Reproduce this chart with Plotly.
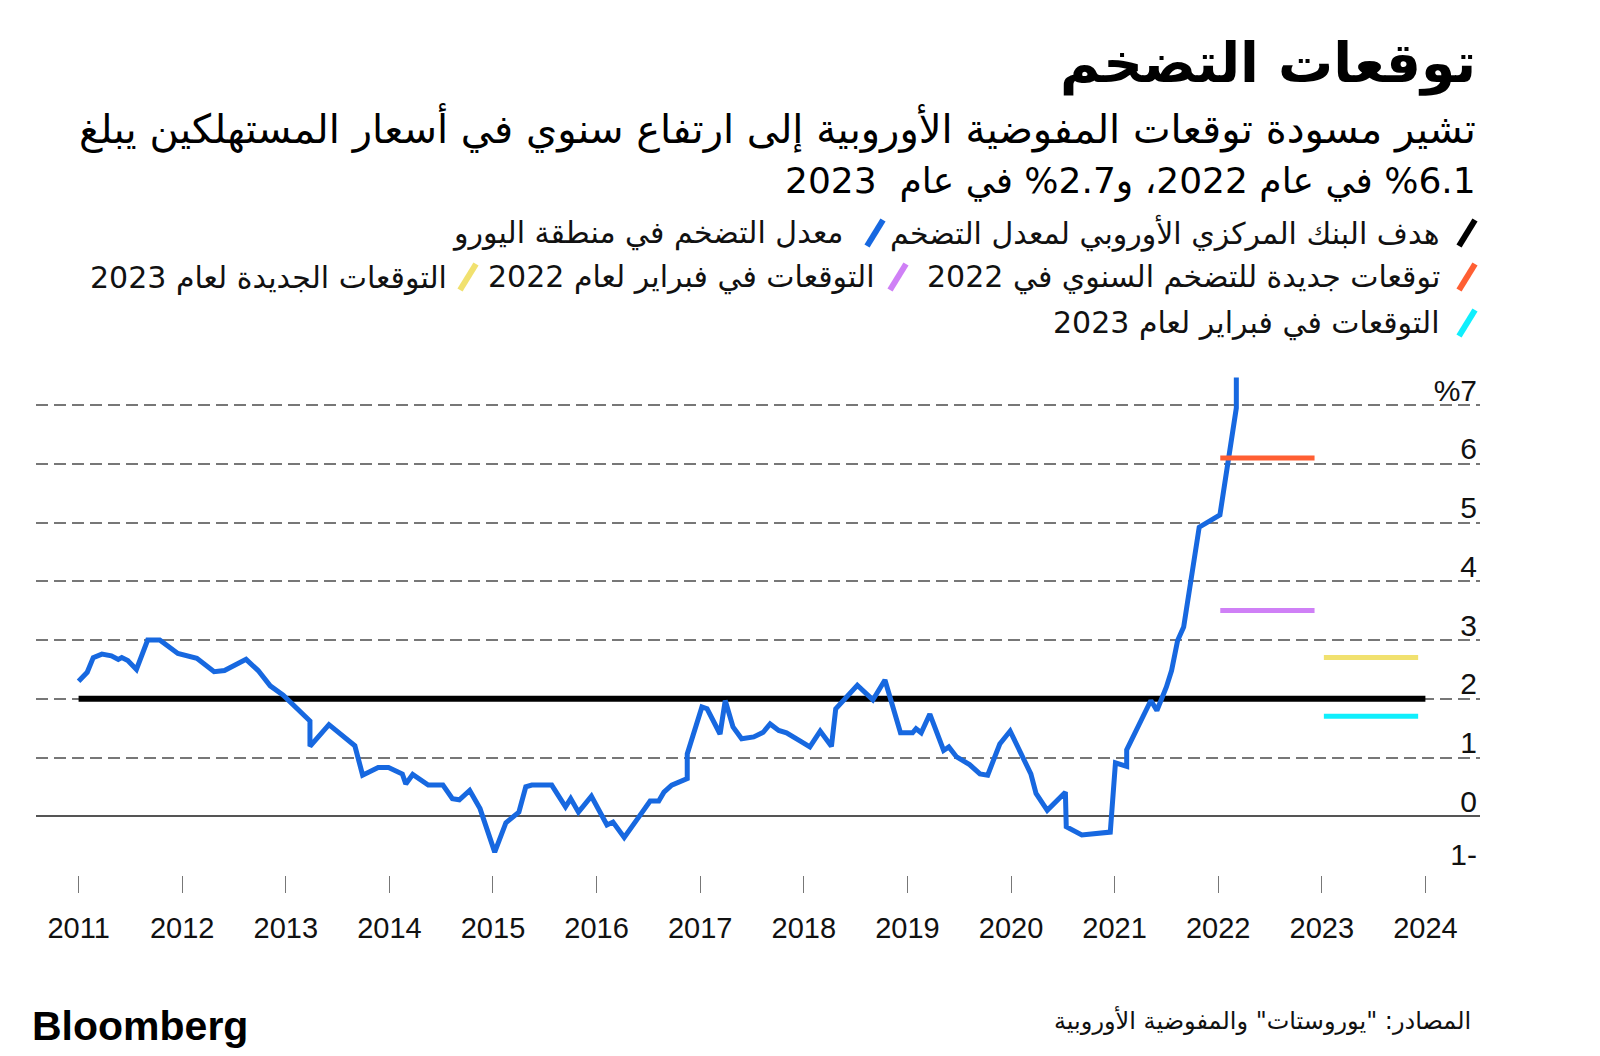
import plotly.graph_objects as go

# ---------------- data ----------------
# Euro-area annual inflation (months since Jan 2011, %)
cpi_month = [0, 1.0, 1.7, 2.7, 3.8, 4.6, 5.0, 5.7, 6.7, 8.0, 9.4, 11.5, 13.7, 15.7, 16.9, 18.4, 19.4,
             20.8, 22.2, 23.7, 26.8, 26.8, 29.0, 32.0, 32.9, 34.7, 35.9, 37.5, 37.9, 38.7, 40.5, 42.2,
             43.3, 44.1, 45.3, 46.5, 48.2, 49.5, 51.0, 51.8, 52.5, 54.8, 56.4, 57.0, 57.9, 59.4, 60.1,
             61.2, 61.9, 63.2, 64.9, 66.2, 67.2, 67.8, 68.7, 70.5, 70.5, 72.2, 72.8, 74.3, 74.9, 75.8,
             76.8, 78.2, 79.3, 80.1, 81.1, 82.0, 83.7, 84.7, 85.9, 87.2, 87.7, 90.2, 92.0, 93.4, 95.2,
             96.6, 97.0, 97.6, 98.6, 100.2, 100.8, 101.7, 103.2, 104.4, 105.3, 106.7, 107.9, 110.3,
             110.9, 112.2, 114.3, 114.4, 116.2, 119.5, 120.1, 121.4, 121.4, 123.0, 124.2, 124.9, 126.0,
             126.6, 127.3, 128.0, 129.8, 132.2, 133.1, 134.1, 134.1]
cpi_value = [2.30, 2.45, 2.70, 2.76, 2.73, 2.67, 2.70, 2.65, 2.50, 3.00, 3.00, 2.77, 2.69, 2.46, 2.48, 2.58, 2.67,
             2.48, 2.22, 2.06, 1.62, 1.19, 1.56, 1.20, 0.70, 0.83, 0.83, 0.72, 0.55, 0.71, 0.53, 0.53,
             0.30, 0.28, 0.44, 0.13, -0.61, -0.11, 0.07, 0.50, 0.53, 0.53, 0.16, 0.30, 0.07, 0.34, 0.16,
             -0.15, -0.10, -0.36, -0.01, 0.26, 0.26, 0.41, 0.53, 0.64, 1.06, 1.86, 1.83, 1.40, 1.97, 1.52,
             1.32, 1.35, 1.43, 1.57, 1.46, 1.42, 1.27, 1.18, 1.45, 1.19, 1.83, 2.23, 1.98, 2.32, 1.42,
             1.42, 1.49, 1.42, 1.74, 1.12, 1.18, 1.01, 0.88, 0.72, 0.70, 1.23, 1.45, 0.72,
             0.39, 0.10, 0.41, -0.18, -0.32, -0.27, 0.91, 0.85, 1.13, 1.63, 1.97, 1.80, 2.20,
             2.48, 2.99, 3.22, 4.92, 5.13, 6.05, 6.95, 7.47]

ecb_target_years = [2011, 2024]
ecb_target_value = [2, 2]

forecast_start = [2022.02, 2022.02, 2023.02, 2023.02]
forecast_end = [2022.93, 2022.93, 2023.93, 2023.93]
forecast_value = [6.1, 3.5, 2.7, 1.7]
forecast_colors = ["#ff5f33", "#cf80f6", "#f1e16f", "#10effd"]

year_ticks = list(range(2011, 2025))
year_labels = [str(y) for y in year_ticks]
y_ticks = [0, 1, 2, 3, 4, 5, 6, 7]
y_labels = ["0", "1", "2", "3", "4", "5", "6", "%7"]
y_neg_ticks = [-1]
y_neg_labels = ["1-"]

title_text = "توقعات التضخم"
subtitle_1 = "تشير مسودة توقعات المفوضية الأوروبية إلى ارتفاع سنوي في أسعار المستهلكين يبلغ"
subtitle_2 = "%6.1 في عام 2022، و2.7% في عام  2023"
legend_labels = ["هدف البنك المركزي الأوروبي لمعدل التضخم", "معدل التضخم في منطقة اليورو",
                 "توقعات جديدة للتضخم السنوي في 2022", "التوقعات في فبراير لعام 2022",
                 "التوقعات الجديدة لعام 2023", "التوقعات في فبراير لعام 2023"]
legend_colors = ["#000000", "#1768e0", "#ff5f33", "#cf80f6", "#f1e16f", "#10effd"]
source_text = 'المصادر: "يوروستات" والمفوضية الأوروبية'

BLUE = "#1768e0"
AR_FONT = "DejaVu Sans"
LAT_FONT = "Liberation Sans, Arial, sans-serif"

# ---------------- geometry helpers (screen pixel -> paper) ----------------
SX, SY = 8, 8                 # page body margin
W, H = 1592, 1048
L, R, T, B = 28, 120, 350, 181
PW, PH = W - L - R, H - T - B


def px(x):
    return (x - SX - L) / PW


def py(y):
    return (H - B - (y - SY)) / PH


def rtl(s):
    return "\u202b" + s + "\u202c"


fig = go.Figure()

cpi_x = [2011 + m / 12 for m in cpi_month]

fig.add_trace(go.Scatter(x=ecb_target_years, y=ecb_target_value, mode="lines",
                         line=dict(color="#000000", width=6), hoverinfo="skip", showlegend=False))
fig.add_trace(go.Scatter(x=cpi_x, y=cpi_value, mode="lines",
                         line=dict(color=BLUE, width=5), hoverinfo="skip", showlegend=False))
for xs, xe, v, c in zip(forecast_start, forecast_end, forecast_value, forecast_colors):
    fig.add_trace(go.Scatter(x=[xs, xe], y=[v, v], mode="lines",
                             line=dict(color=c, width=5), hoverinfo="skip", showlegend=False))

# invisible trace to carry the secondary y-axis (for the -1 label)
fig.add_trace(go.Scatter(x=[2011], y=[-1], yaxis="y2", mode="markers",
                         marker=dict(opacity=0), hoverinfo="skip", showlegend=False))

annotations = []
shapes = []

# Title and subtitle
annotations.append(dict(text="<b>" + rtl(title_text) + "</b>", xref="paper", yref="paper",
                        x=px(1478), y=py(63), xanchor="right", yanchor="middle", showarrow=False,
                        font=dict(family=AR_FONT, size=55, color="#000000")))
annotations.append(dict(text=rtl(subtitle_1), xref="paper", yref="paper", x=px(1478), y=py(128),
                        xanchor="right", yanchor="middle", showarrow=False,
                        font=dict(family=AR_FONT, size=40, color="#000000")))
annotations.append(dict(text=rtl(subtitle_2), xref="paper", yref="paper", x=px(1478), y=py(181),
                        xanchor="right", yanchor="middle", showarrow=False,
                        font=dict(family=AR_FONT, size=36, color="#000000")))

# Legend (RTL, custom)
legend_rows = [233, 233, 277, 277, 277, 323]
legend_text_right = [1442, 845, 1442, 877, 449, 1442]
legend_mark_x = [1467, 875, 1467, 898, 468, 1467]
for lab, col, ry, tr, mx in zip(legend_labels, legend_colors, legend_rows, legend_text_right, legend_mark_x):
    annotations.append(dict(text=rtl(lab), xref="paper", yref="paper", x=px(tr), y=py(ry),
                            xanchor="right", yanchor="middle", showarrow=False,
                            font=dict(family=AR_FONT, size=30, color="#111111")))
    shapes.append(dict(type="line", xref="paper", yref="paper",
                       x0=px(mx - 8), y0=py(ry + 13), x1=px(mx + 8), y1=py(ry - 13),
                       line=dict(color=col, width=6)))

# Footer
annotations.append(dict(text="<b>Bloomberg</b>", xref="paper", yref="paper", x=px(30), y=py(1026),
                        xanchor="left", yanchor="middle", showarrow=False,
                        font=dict(family=LAT_FONT, size=41, color="#000000")))
annotations.append(dict(text=rtl(source_text), xref="paper", yref="paper", x=px(1473), y=py(1021),
                        xanchor="right", yanchor="middle", showarrow=False,
                        font=dict(family=AR_FONT, size=24, color="#111111")))

fig.update_layout(
    width=W, height=H,
    margin=dict(l=L, r=R, t=T, b=B, pad=0),
    paper_bgcolor="#ffffff", plot_bgcolor="#ffffff",
    showlegend=False,
    annotations=annotations,
    shapes=shapes,
    xaxis=dict(range=[2010.589, 2024.527], tickvals=year_ticks, ticktext=year_labels,
               showgrid=False, zeroline=False, showline=False,
               ticks="outside", ticklen=17, tickwidth=1, tickcolor="#777777",
               tickfont=dict(family=LAT_FONT, size=29, color="#111111"),
               ticklabelstandoff=10),
    yaxis=dict(range=[-1, 7.8], tickvals=y_ticks, ticktext=y_labels, side="right",
               ticklabelposition="inside top", ticks="", ticklabelshift=6,
               showgrid=True, gridcolor="#777777", gridwidth=1.5, griddash="12px,6px",
               zeroline=True, zerolinecolor="#555555", zerolinewidth=1.5,
               showline=False,
               tickfont=dict(family=LAT_FONT, size=30, color="#111111")),
    yaxis2=dict(range=[-1, 7.8], tickvals=y_neg_ticks, ticktext=y_neg_labels, side="right",
                overlaying="y", ticklabelposition="inside top", ticks="",
                showgrid=False, zeroline=False, showline=False,
                tickfont=dict(family=LAT_FONT, size=30, color="#111111")),
)

fig.write_html("out.html")
